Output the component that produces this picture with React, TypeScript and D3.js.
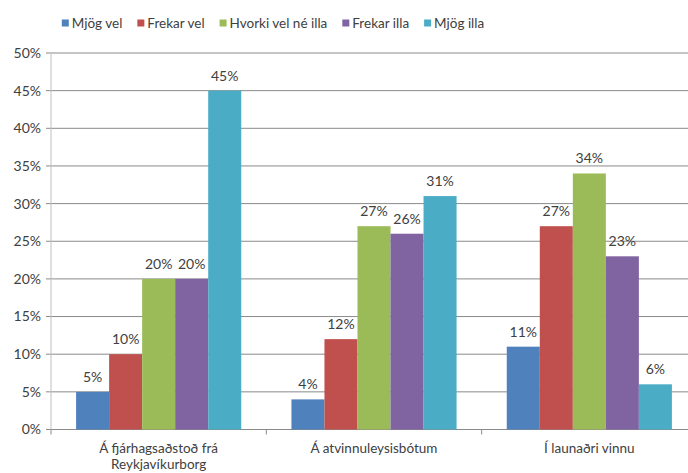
import React, { useLayoutEffect, useRef, useState } from "react";
import * as d3 from "d3";

const categories = ["Á fjárhagsaðstoð frá Reykjavíkurborg", "Á atvinnuleysisbótum", "Í launaðri vinnu"];
const categoryLines = [["Á fjárhagsaðstoð frá", "Reykjavíkurborg"], ["Á atvinnuleysisbótum"], ["Í launaðri vinnu"]];
const seriesNames = ["Mjög vel", "Frekar vel", "Hvorki vel né illa", "Frekar illa", "Mjög illa"];
const colors = ["#4F81BD", "#C0504D", "#9BBB59", "#8064A2", "#4BACC6"];
const values = [
  [5, 4, 11],
  [10, 12, 27],
  [20, 27, 34],
  [20, 26, 23],
  [45, 31, 6],
];
const yTicks = [0, 5, 10, 15, 20, 25, 30, 35, 40, 45, 50];

export default function App() {
  const W = 688, H = 473;
  const left = 51, right = 697, top = 53, bottom = 429.5;
  const font = "Lato, sans-serif";
  const x0 = d3.scaleBand<string>().domain(categories).range([left, right]).paddingInner(0).paddingOuter(0);
  const x1 = d3.scaleBand<string>().domain(seriesNames).range([0, x0.bandwidth()]).paddingOuter(0.76).paddingInner(0);
  const y = d3.scaleLinear().domain([0, 50]).range([bottom, top]);

  const textRefs = useRef<(SVGTextElement | null)[]>([]);
  const [widths, setWidths] = useState<number[]>([40, 45, 76, 45, 40]);
  useLayoutEffect(() => {
    const w = textRefs.current.map((t) => (t ? t.getComputedTextLength() : 40));
    setWidths(w);
  }, []);
  const sq = 7, gapSqText = 3, gapItem = 15;
  const total = widths.reduce((a, w) => a + sq + gapSqText + w, 0) + gapItem * (widths.length - 1);
  const startX = 273 - total / 2;
  const legendPos: number[] = [];
  let acc = startX;
  widths.forEach((w) => {
    legendPos.push(acc);
    acc += sq + gapSqText + w + gapItem;
  });

  return (
    <svg width={W} height={H} style={{ position: "absolute", left: 0, top: 0 }} fontFamily={font}>
      <rect width={W} height={H} fill="#fff" />
      {yTicks.map((t) => (
        <g key={t}>
          <line x1={left - 5} x2={W} y1={y(t)} y2={y(t)} stroke="#8a8a8a" strokeWidth={1} />
          <text x={left - 10} y={y(t)} dy="0.35em" textAnchor="end" fontSize={14} fill="#404040">{t}%</text>
        </g>
      ))}
      <line x1={left} x2={left} y1={top} y2={bottom} stroke="#bfbfbf" />
      {[0, 1, 2, 3].map((i) => (
        <line key={i} x1={left + i * x0.bandwidth()} x2={left + i * x0.bandwidth()} y1={bottom} y2={bottom + 5} stroke="#8a8a8a" />
      ))}
      {seriesNames.map((s, si) =>
        categories.map((c, ci) => {
          const v = values[si][ci];
          const bx = (x0(c) as number) + (x1(s) as number);
          return (
            <g key={s + c}>
              <rect x={bx} y={y(v)} width={x1.bandwidth()} height={bottom - y(v)} fill={colors[si]} />
              <text x={bx + x1.bandwidth() / 2} y={y(v) - 10} textAnchor="middle" fontSize={14} fill="#404040">{v}%</text>
            </g>
          );
        })
      )}
      {categories.map((c, ci) => (
        <text key={c} x={(x0(c) as number) + x0.bandwidth() / 2} y={453} textAnchor="middle" fontSize={13.5} fill="#404040">
          {categoryLines[ci].map((l, li) => (
            <tspan key={li} x={(x0(c) as number) + x0.bandwidth() / 2} dy={li === 0 ? 0 : 16}>{l}</tspan>
          ))}
        </text>
      ))}
      {seriesNames.map((s, si) => (
        <g key={s}>
          <rect x={legendPos[si]} y={19.5} width={sq} height={sq} fill={colors[si]} />
          <text
            ref={(el) => { textRefs.current[si] = el; }}
            x={legendPos[si] + sq + gapSqText}
            y={23}
            dy="0.35em"
            fontSize={13.5}
            fill="#404040"
          >{s}</text>
        </g>
      ))}
    </svg>
  );
}
